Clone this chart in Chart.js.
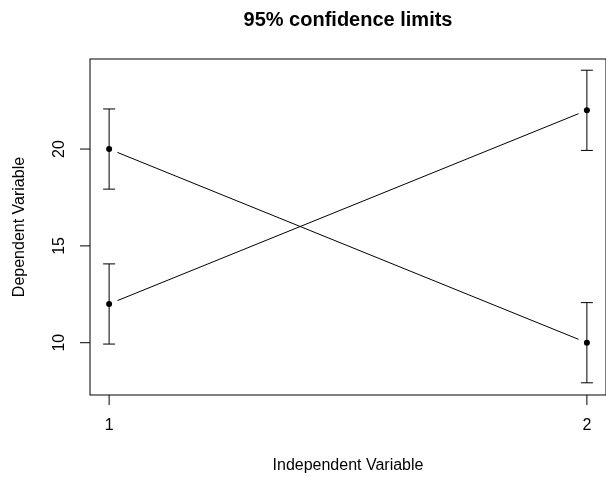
<!DOCTYPE html>
<html>
<head>
<meta charset="utf-8">
<script src="https://cdn.jsdelivr.net/npm/chart.js@4"></script>
<style>
  html, body { margin: 0; padding: 0; background: #fff; }
  #wrap { width: 606px; height: 477px; }
</style>
</head>
<body>
<div id="wrap"><canvas id="plot" width="606" height="477"></canvas></div>
<script>
// data
const groups = [1, 2];
const seriesA = [20, 10];
const seriesB = [12, 22];
const errA = [2.07, 2.07];
const errB = [2.07, 2.07];
const xTicks = [1, 2];
const yTicks = [10, 15, 20];

const titleText = '95% confidence limits';
const xLabel = 'Independent Variable';
const yLabel = 'Dependent Variable';
const FONT = '"Liberation Sans", Arial, sans-serif';

const toPoints = (ys) => groups.map((x, i) => ({ x: x, y: ys[i] }));

// R style box, axes, error bars and "type b" lines
const rPlot = {
  id: 'rPlot',
  afterDatasetsDraw(chart) {
    const ctx = chart.ctx;
    const xs = chart.scales.x;
    const ys = chart.scales.y;
    const area = chart.chartArea;
    ctx.save();
    ctx.strokeStyle = '#000';
    ctx.fillStyle = '#000';
    ctx.lineWidth = 1;

    // lines with gaps round the points
    const gap = 9;
    [seriesA, seriesB].forEach(vals => {
      for (let i = 0; i < groups.length - 1; i++) {
        const x1 = xs.getPixelForValue(groups[i]), y1 = ys.getPixelForValue(vals[i]);
        const x2 = xs.getPixelForValue(groups[i + 1]), y2 = ys.getPixelForValue(vals[i + 1]);
        const len = Math.hypot(x2 - x1, y2 - y1);
        const ux = (x2 - x1) / len, uy = (y2 - y1) / len;
        ctx.beginPath();
        ctx.moveTo(x1 + ux * gap, y1 + uy * gap);
        ctx.lineTo(x2 - ux * gap, y2 - uy * gap);
        ctx.stroke();
      }
    });

    // error bars
    const cap = 6;
    [[seriesA, errA], [seriesB, errB]].forEach(([vals, errs]) => {
      groups.forEach((g, i) => {
        const px = xs.getPixelForValue(g);
        const top = ys.getPixelForValue(vals[i] + errs[i]);
        const bot = ys.getPixelForValue(vals[i] - errs[i]);
        ctx.beginPath();
        ctx.moveTo(px, top); ctx.lineTo(px, bot);
        ctx.moveTo(px - cap, top); ctx.lineTo(px + cap, top);
        ctx.moveTo(px - cap, bot); ctx.lineTo(px + cap, bot);
        ctx.stroke();
      });
    });

    // box
    ctx.strokeRect(area.left, area.top, area.right - area.left, area.bottom - area.top);

    // x axis ticks and labels
    ctx.font = '16px ' + FONT;
    ctx.textAlign = 'center';
    ctx.textBaseline = 'middle';
    xTicks.forEach(t => {
      const px = xs.getPixelForValue(t);
      ctx.beginPath();
      ctx.moveTo(px, area.bottom); ctx.lineTo(px, area.bottom + 10);
      ctx.stroke();
      ctx.fillText(String(t), px, area.bottom + 31);
    });

    // y axis ticks and labels (rotated, R style)
    yTicks.forEach(t => {
      const py = ys.getPixelForValue(t);
      ctx.beginPath();
      ctx.moveTo(area.left, py); ctx.lineTo(area.left - 10, py);
      ctx.stroke();
      ctx.save();
      ctx.translate(area.left - 30, py);
      ctx.rotate(-Math.PI / 2);
      ctx.fillText(String(t), 0, 0);
      ctx.restore();
    });

    // axis titles
    const midX = (area.left + chart.width) / 2;
    ctx.fillText(xLabel, midX, area.bottom + 71);
    ctx.save();
    ctx.translate(20, (area.top + area.bottom) / 2);
    ctx.rotate(-Math.PI / 2);
    ctx.fillText(yLabel, 0, 0);
    ctx.restore();

    // main title
    ctx.font = 'bold 20px ' + FONT;
    ctx.fillText(titleText, midX, 20);
    ctx.restore();
  }
};

new Chart(document.getElementById('plot'), {
  type: 'scatter',
  data: {
    datasets: [
      { label: 'A', data: toPoints(seriesA), showLine: false, pointRadius: 3, pointHoverRadius: 3,
        backgroundColor: '#000', borderColor: '#000', borderWidth: 0 },
      { label: 'B', data: toPoints(seriesB), showLine: false, pointRadius: 3, pointHoverRadius: 3,
        backgroundColor: '#000', borderColor: '#000', borderWidth: 0 }
    ]
  },
  options: {
    responsive: false,
    animation: false,
    layout: { autoPadding: false, padding: { left: 90, right: 0, top: 59, bottom: 82 } },
    plugins: { legend: { display: false }, tooltip: { enabled: false }, title: { display: false } },
    scales: {
      x: { type: 'linear', min: 0.96, max: 2.04, display: false },
      y: { type: 'linear', min: 7.3, max: 24.65, display: false }
    }
  },
  plugins: [rPlot]
});
</script>
</body>
</html>
